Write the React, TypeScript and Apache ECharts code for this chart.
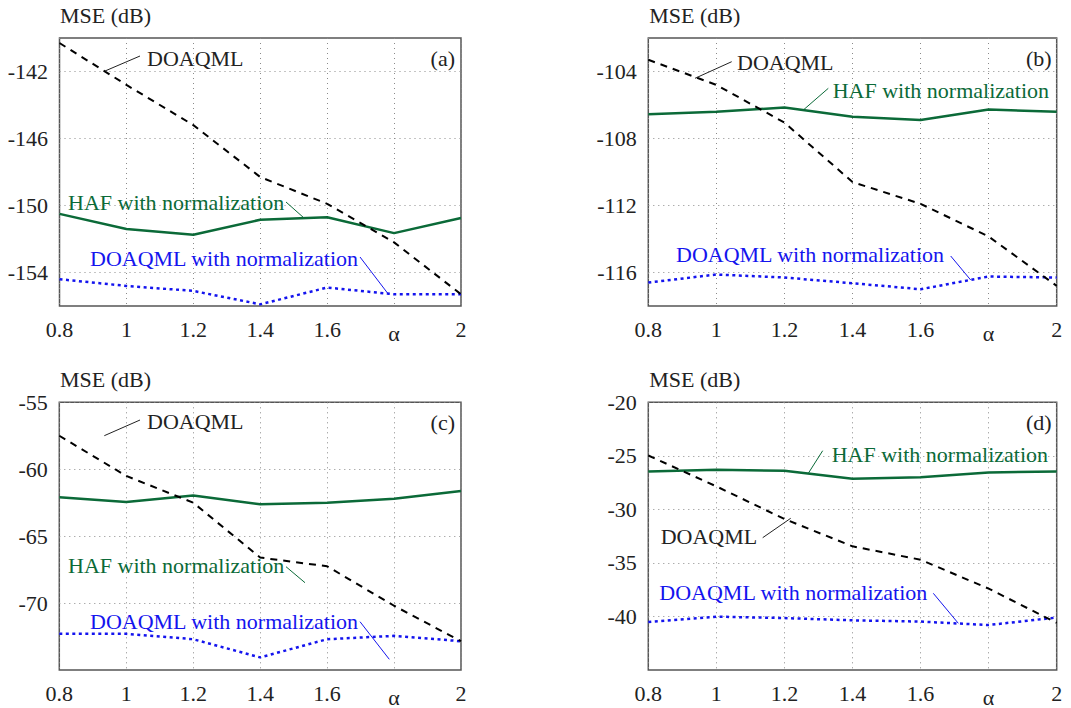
import React, { useEffect, useRef } from "react";
import * as echarts from "echarts";

const alphaValues = [0.8, 1, 1.2, 1.4, 1.6, 1.8, 2];

const doaqmlA = [-140.3, -142.8, -145.2, -148.3, -149.9, -152.2, -155.3];
const hafA = [-150.5, -151.4, -151.75, -150.85, -150.7, -151.65, -150.75];
const normA = [-154.4, -154.8, -155.1, -155.9, -154.9, -155.3, -155.3];

const doaqmlB = [-103.3, -104.8, -107.05, -110.6, -111.9, -113.85, -116.8];
const hafB = [-106.55, -106.4, -106.15, -106.7, -106.9, -106.27, -106.4];
const normB = [-116.6, -116.12, -116.3, -116.64, -117.0, -116.24, -116.3];

const doaqmlC = [-57.5, -60.5, -62.5, -66.6, -67.25, -70.2, -72.85];
const hafC = [-62.1, -62.45, -61.96, -62.62, -62.5, -62.2, -61.63];
const normC = [-72.3, -72.3, -72.7, -74.06, -72.7, -72.45, -72.85];

const doaqmlD = [-24.97, -27.85, -30.9, -33.45, -34.7, -37.4, -40.6];
const hafD = [-26.46, -26.3, -26.4, -27.14, -26.99, -26.55, -26.46];
const normD = [-40.52, -40.02, -40.15, -40.36, -40.48, -40.8, -40.1];

const yRanges = [
  [-156, -140],
  [-118, -102],
  [-75, -55],
  [-45, -20],
];
const yTicks = [
  [-154, -150, -146, -142],
  [-116, -112, -108, -104],
  [-70, -65, -60, -55],
  [-40, -35, -30, -25, -20],
];
const panelLetters = ["(a)", "(b)", "(c)", "(d)"];
const yName = "MSE (dB)";
const xName = "α";
const nameDoa = "DOAQML";
const nameHaf = "HAF with normalization";
const nameNorm = "DOAQML with normalization";

const FONT = "Liberation Serif";
const FS = 22;
const BLACK = "#222";
const GREEN = "#0b6a38";
const BLUE = "#1414ee";

const grids = [
  { left: 59.5, top: 38, width: 401.5, height: 268 },
  { left: 648.3, top: 38, width: 408.4, height: 268 },
  { left: 59.3, top: 402.3, width: 401.7, height: 267.7 },
  { left: 648.3, top: 402.3, width: 408.4, height: 267.7 },
];

// annotation layout: [textX, textY, lineX1, lineY1, lineX2, lineY2]
const annotations = [
  {
    doa: [147, 58, 140, 56, 105, 71],
    haf: [68, 202, 286, 202, 304, 218],
    norm: [90, 258, 360, 257, 389, 295],
    letter: [455, 58],
    yname: [60, 15],
  },
  {
    doa: [737, 62.7, 731.7, 61.7, 695, 78.3],
    haf: [832.7, 90, 828.3, 88.3, 803.3, 110],
    norm: [676, 254.3, 950.7, 256, 970.7, 280],
    letter: [1051.7, 58.3],
    yname: [649.3, 15],
  },
  {
    doa: [147, 421.7, 140, 420, 104.3, 435.7],
    haf: [68, 565.7, 286, 566.7, 305, 582.7],
    norm: [90, 621, 360, 621.7, 389.3, 659.3],
    letter: [455, 422.3],
    yname: [60, 379],
  },
  {
    doa: [660.7, 536.7, 762.7, 537.7, 790.7, 518.3],
    haf: [831.7, 454.3, 822.7, 450.7, 808.3, 473.3],
    norm: [659.3, 592.3, 933.3, 593.3, 958.3, 623.3],
    letter: [1051.7, 422.3],
    yname: [649.3, 379],
  },
];

const panelData = [
  [doaqmlA, hafA, normA],
  [doaqmlB, hafB, normB],
  [doaqmlC, hafC, normC],
  [doaqmlD, hafD, normD],
];

function pairs(ys: number[]) {
  return alphaValues.map((x, i) => [x, ys[i]]);
}

export default function App() {
  const ref = useRef<HTMLDivElement>(null);
  useEffect(() => {
    if (!ref.current) return;
    const chart = echarts.init(ref.current, null, { renderer: "svg" });

    const gridLine = { show: true, lineStyle: { color: "#8a8a8a", width: 1, type: [1, 4] as any } };

    const xAxis = grids.map((_, i) => ({
      type: "value",
      gridIndex: i,
      min: 0.8,
      max: 2,
      interval: 0.2,
      axisLine: { show: false },
      axisTick: { show: false },
      splitLine: gridLine,
      axisLabel: {
        margin: 12,
        color: BLACK,
        fontFamily: FONT,
        fontSize: FS,
        formatter: (v: number) => {
          if (Math.abs(v - 1.8) < 1e-6) return "{a|" + xName + "}";
          return String(Math.round(v * 10) / 10);
        },
        rich: {
          a: { fontFamily: FONT, fontSize: FS, color: BLACK, padding: [4, 0, 0, 0] },
        },
      },
    }));

    const yAxis = grids.map((_, i) => ({
      type: "value",
      gridIndex: i,
      min: yRanges[i][0],
      max: yRanges[i][1],
      axisLine: { show: false },
      axisTick: { show: false, customValues: yTicks[i] },
      splitLine: gridLine,
      axisLabel: {
        margin: 11.5,
        color: BLACK,
        fontFamily: FONT,
        fontSize: FS,
        customValues: yTicks[i],
        formatter: (v: number) => String(v),
      },
    }));

    const series: any[] = [];
    panelData.forEach((d, i) => {
      series.push({
        type: "line",
        xAxisIndex: i,
        yAxisIndex: i,
        data: pairs(d[1]),
        showSymbol: false,
        lineStyle: { color: GREEN, width: 2.5, type: "solid" },
        z: 3,
      });
      series.push({
        type: "line",
        xAxisIndex: i,
        yAxisIndex: i,
        data: pairs(d[2]),
        showSymbol: false,
        lineStyle: { color: BLUE, width: 2.5, type: [3, 3.5] },
        z: 3,
      });
      series.push({
        type: "line",
        xAxisIndex: i,
        yAxisIndex: i,
        data: pairs(d[0]),
        showSymbol: false,
        lineStyle: { color: "#000", width: 2, type: [7, 6] },
        z: 4,
      });
    });

    const graphic: any[] = [];
    const txt = (text: string, x: number, y: number, color: string, align = "left") => ({
      type: "text",
      x,
      y,
      z: 10,
      style: {
        text,
        fill: color,
        fontFamily: FONT,
        fontSize: FS,
        textAlign: align,
        textVerticalAlign: "middle",
      },
    });
    const ln = (x1: number, y1: number, x2: number, y2: number, color: string) => ({
      type: "line",
      z: 10,
      shape: { x1, y1, x2, y2 },
      style: { stroke: color, lineWidth: 1 },
    });
    annotations.forEach((a, i) => {
      graphic.push(txt(yName, a.yname[0], a.yname[1], BLACK));
      graphic.push(txt(panelLetters[i], a.letter[0], a.letter[1], BLACK, "right"));
      graphic.push(txt(nameDoa, a.doa[0], a.doa[1], BLACK));
      graphic.push(ln(a.doa[2], a.doa[3], a.doa[4], a.doa[5], BLACK));
      graphic.push(txt(nameHaf, a.haf[0], a.haf[1], GREEN));
      graphic.push(ln(a.haf[2], a.haf[3], a.haf[4], a.haf[5], GREEN));
      graphic.push(txt(nameNorm, a.norm[0], a.norm[1], BLUE));
      graphic.push(ln(a.norm[2], a.norm[3], a.norm[4], a.norm[5], BLUE));
    });

    chart.setOption({
      animation: false,
      backgroundColor: "#fff",
      textStyle: { fontFamily: FONT },
      grid: grids.map((g) => ({
        ...g,
        show: true,
        borderColor: "#555",
        borderWidth: 1.5,
        backgroundColor: "transparent",
        containLabel: false,
      })),
      xAxis,
      yAxis,
      series,
      graphic,
    } as any);

    return () => chart.dispose();
  }, []);

  return (
    <div
      ref={ref}
      style={{ position: "fixed", left: 0, top: 0, width: 1071, height: 708, background: "#fff" }}
    />
  );
}
